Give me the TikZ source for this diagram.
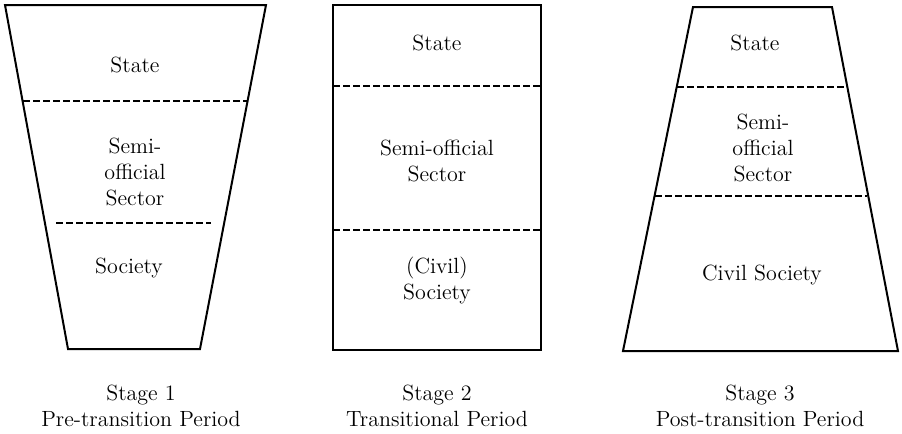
\documentclass[tikz,border=0pt]{standalone}
\usepackage{tikz}
\usetikzlibrary{positioning}

\tikzset{
  layer/.style={draw, line width=1pt, line join=miter},
  divide/.style={dash pattern=on 3.5pt off 1.5pt, line width=0.6pt},
  lbl/.style={align=center, font=\fontsize{11}{13}\selectfont, inner sep=0pt},
}

\begin{document}
\begin{tikzpicture}[x=0.5pt,y=-0.5pt]
  \useasboundingbox (0,0) rectangle (902,434);

  % stage 1
  \draw[layer] (5,5) -- (266,5) -- (200,349) -- (68,349) -- cycle;
  \draw[divide] (23,101) -- (248,101);
  \draw[divide] (56,223) -- (211,223);
  \node[lbl] (state1) at (135,65) {State};
  \node[lbl] (semi1) at (135,172) {Semi-\\official\\Sector};
  \node[lbl] (soc1) at (129,268) {Society};
  \node[lbl] (stage1) at (141,406) {Stage 1\\Pre-transition Period};

  % stage 2
  \draw[layer] (333,5) rectangle (541,350);
  \draw[divide] (333,86) -- (541,86);
  \draw[divide] (333,230) -- (541,230);
  \node[lbl] (state2) at (437,43) {State};
  \node[lbl] (semi2) at (437,161) {Semi-official\\Sector};
  \node[lbl] (soc2) at (437,280) {(Civil)\\Society};
  \node[lbl] (stage2) at (437,406) {Stage 2\\Transitional Period};

  % stage 3
  \draw[layer] (693,7) -- (832,7) -- (898,351) -- (623,351) -- cycle;
  \draw[divide] (677,87) -- (844,87);
  \draw[divide] (655,196) -- (867,196);
  \node[lbl] (state3) at (755,43) {State};
  \node[lbl] (semi3) at (763,148) {Semi-\\official\\Sector};
  \node[lbl] (soc3) at (762,275) {Civil Society};
  \node[lbl] (stage3) at (760,406) {Stage 3\\Post-transition Period};
\end{tikzpicture}
\end{document}
